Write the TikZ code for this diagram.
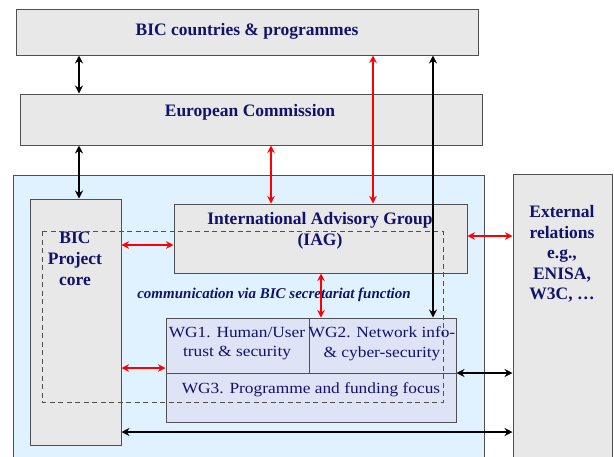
\documentclass[tikz,border=0pt]{standalone}
\usepackage{fontspec}
\setmainfont{Liberation Serif}
\newfontfamily\wgfont[FakeStretch=1.12]{Liberation Serif}
\usetikzlibrary{arrows.meta}
\definecolor{navy}{HTML}{12126E}
\definecolor{boxgrey}{HTML}{E8E8E8}
\definecolor{edgegrey}{HTML}{505050}
\definecolor{regionblue}{HTML}{E0F2FF}
\definecolor{wgfill}{HTML}{DEE3F6}
\definecolor{linkred}{HTML}{FF0000}
\begin{document}
\begin{tikzpicture}[x=1pt,y=-1pt,
  greybox/.style={draw=edgegrey,fill=boxgrey,line width=1pt,inner sep=0pt},
  wgbox/.style={draw=edgegrey,fill=wgfill,line width=1pt,inner sep=0pt},
  title/.style={text=navy,font=\fontsize{17.5}{21}\selectfont\bfseries,align=center,inner sep=0pt},
  wgtext/.style={text=navy,font=\wgfont\fontsize{15.5}{19.5}\selectfont,align=center,inner sep=0pt},
  blklink/.style={draw=black,line width=2.8pt,{Stealth[length=8pt,width=8pt]}-{Stealth[length=8pt,width=8pt]}},
  redlink/.style={draw=linkred,line width=2.3pt,{Stealth[length=7.5pt,width=7.5pt]}-{Stealth[length=7.5pt,width=7.5pt]}},
  secretariat/.style={draw=edgegrey,line width=1pt,dash pattern=on 5pt off 3.5pt}]
\useasboundingbox (0,0) rectangle (614,456);
\fill[white] (0,0) rectangle (614,456);

% outer layers
\node[greybox,minimum width=462pt,minimum height=46pt] (top) at (247,32) {};
\node[greybox,minimum width=462pt,minimum height=51pt] (ec) at (251,119.5) {};
\node[draw=edgegrey,fill=regionblue,line width=1pt,inner sep=0pt,minimum width=471pt,minimum height=300pt] (region) at (248.5,325) {};
\node[greybox,minimum width=99pt,minimum height=300pt] (ext) at (562.5,324) {};

% BIC project structure
\node[greybox,minimum width=91pt,minimum height=246pt] (core) at (75.5,322) {};
\node[greybox,minimum width=293pt,minimum height=69pt] (iag) at (320.5,238.5) {};
\node[wgbox,minimum width=143pt,minimum height=55pt] (wg1) at (237.5,345.5) {};
\node[wgbox,minimum width=147pt,minimum height=55pt] (wg2) at (382.5,345.5) {};
\node[wgbox,minimum width=290pt,minimum height=49pt] (wg3) at (311,397.5) {};

% labels
\node[title] (ttop) at (247,31) {BIC countries \& programmes};
\node[title] (tec) at (250,112) {European Commission};
\node[title] (tiag) at (320,231) {International Advisory Group\\(IAG)};
\node[title] (tcore) at (75,259) {BIC\\Project\\core};
\node[title,font=\fontsize{17.5}{20.5}\selectfont\bfseries] (text) at (562,254) {External\\relations\\e.g.,\\ENISA,\\W3C, \dots};
\node[text=navy,inner sep=0pt,font=\fontsize{15}{18}\selectfont\bfseries\itshape] (tcomm) at (274,295) {communication via BIC secretariat function};
\node[wgtext] (twg1) at (237,343.5) {WG1. Human/User\\trust \& security};
\node[wgtext] (twg2) at (382,343.5) {WG2. Network info-\\\& cyber-security};
\node[wgtext] (twg3) at (311,390) {WG3. Programme and funding focus};

% secretariat boundary
\coordinate (secnw) at (42,231);
\coordinate (secse) at (443,402);
\draw[secretariat] (secnw) rectangle (secse);

% connector lanes
\coordinate (lane1) at (79,0);
\coordinate (lane2) at (271,0);
\coordinate (lane3) at (373,0);
\coordinate (lane4) at (433,0);
\coordinate (lane5) at (321,0);
\coordinate (row1) at (0,245);
\coordinate (row2) at (0,368);
\coordinate (row3) at (0,236);
\coordinate (row4) at (0,373);
\coordinate (row5) at (0,432);

\draw[blklink] (top.south -| lane1) -- (ec.north -| lane1);
\draw[blklink] (ec.south -| lane1) -- (core.north -| lane1);
\draw[redlink] (ec.south -| lane2) -- (iag.north -| lane2);
\draw[redlink] (top.south -| lane3) -- (iag.north -| lane3);
\draw[blklink] (top.south -| lane4) -- (wg2.north -| lane4);
\draw[redlink] (core.east |- row1) -- (iag.west |- row1);
\draw[redlink] (core.east |- row2) -- (wg1.west |- row2);
\draw[redlink] (iag.south -| lane5) -- (wg2.north -| lane5);
\draw[redlink] (iag.east |- row3) -- (ext.west |- row3);
\draw[blklink] (wg3.east |- row4) -- (ext.west |- row4);
\draw[blklink] (core.east |- row5) -- (ext.west |- row5);
\end{tikzpicture}
\end{document}
